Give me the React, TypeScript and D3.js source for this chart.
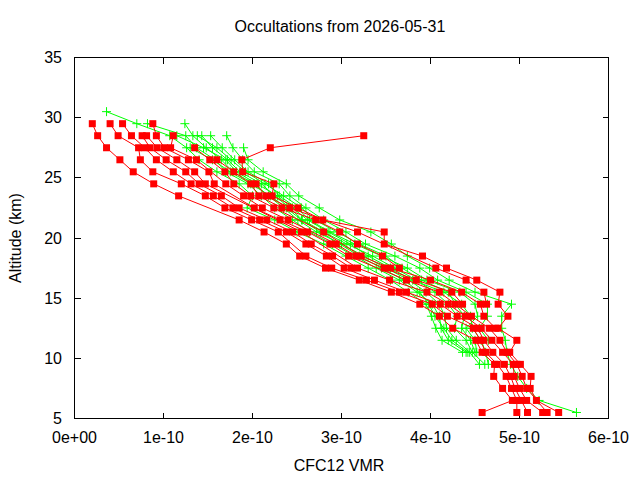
import React from "react";
import * as d3 from "d3";

// Tangent altitudes (km) of each retrieval level, top to bottom
const altitudes = [
  30.5, 29.5, 28.5, 27.5, 26.5, 25.5, 24.5, 23.5, 22.5, 21.5, 20.5, 19.5, 18.5,
  17.5, 16.5, 15.5, 14.5, 13.5, 12.5, 11.5, 10.5, 9.5, 8.5, 7.5, 6.5, 5.5,
];

// CFC-12 volume mixing ratios in units of 1e-10 (null = no retrieval at that level)
const VMR_UNIT = 1e-10;
const _ = null;

// Red profiles
const red1 = [_, 0.2, 0.26, 0.36, 0.51, 0.66, 0.89, 1.17, _, 1.85, 2.13, 2.38, 2.53, 2.82, 3.2, 3.56, 3.88, 4.1, 4.25, 4.51, 4.58, 4.72, 4.71, 4.81, 4.92, 4.58];
const red2 = [_, 0.4, 0.49, 0.72, 0.74, 0.88, 1.2, 1.47, 1.69, 1.99, 2.29, _, 2.6, 2.89, 3.28, 3.65, 4.02, 4.19, 4.48, 4.56, 4.62, 4.75, 4.85, 4.91, 4.97, 4.97];
const red3 = [_, 0.54, 0.64, 0.79, 0.92, 1.11, 1.31, 1.56, 1.78, 2.08, 2.38, 2.6, 2.83, 3.03, 3.37, 3.73, 4.11, 4.3, 4.53, 4.6, 4.7, 4.83, 4.9, 4.95, 5.02, 5.09];
const red4 = [_, _, 0.76, 0.85, 1.03, 1.25, 1.4, 1.65, 1.85, 2.16, 2.45, 2.66, 2.9, 3.11, _, _, _, _, _, _, _, _, _, _, _, _];
const red5 = [_, _, 0.81, 0.93, 1.15, 1.35, 1.47, _, _, _, 2.55, _, _, 3.18, 3.54, 3.96, 4.2, 4.39, 4.57, 4.69, 4.81, 4.93, 4.94, 5.0, 5.08, 5.26];
const red6 = [_, 0.88, 0.92, 1.01, 1.28, 1.51, 1.57, _, 2.02, 2.31, 2.62, 2.87, 3.08, _, 3.73, 4.1, 4.28, 4.46, 4.66, 4.78, 4.86, 4.97, 5.03, 5.08, _, 5.31];
const red7 = [_, _, 1.11, 1.08, 1.37, _, 1.7, 1.9, 2.11, 2.4, _, 2.94, 3.16, 3.48, 3.84, 4.24, 4.36, _, _, _, _, _, _, _, _, _];
const red8 = [_, _, _, 1.35, 1.52, 1.69, 1.79, 1.98, 2.24, _, 2.8, _, 3.22, 3.55, 4.0, 4.35, 4.56, 4.6, 4.73, _, _, _, _, _, _, _];
const red9 = [_, _, _, _, 1.6, 1.79, 1.98, 2.07, 2.33, 2.71, 2.98, 3.18, 3.46, 3.65, _, _, _, _, _, _, _, _, _, _, _, _];
const red10 = [_, _, _, _, _, _, 2.04, 2.15, 2.42, _, 3.18, _, _, 4.06, 4.4, 4.6, 4.63, _, _, _, _, _, _, _, _, _];
const red11 = [_, _, 3.25, 2.2, 1.88, 1.89, 2.24, 2.22, 2.51, 2.79, 3.48, 3.48, 3.91, 4.18, 4.52, 4.78, 4.76, 4.87, 4.76, 4.97, 4.89, 5.01, 5.13, 5.12, 5.19, 5.44];

// Green profiles
const green1 = [0.36, 0.7, 1.07, 1.26, 1.4, 1.6, 1.85, 2.0, 1.94, 2.25, 2.5, 2.8, 3.05, 3.3, 3.55, 3.75, 3.95, 4.01, 4.06, 4.13, 4.36, _, _, _, _, _];
const green2 = [_, 0.82, 1.25, 1.37, 1.58, 1.7, 1.95, 2.1, 2.25, 2.45, 2.64, 2.9, 3.15, 3.39, 3.65, 3.85, 4.02, 4.1, 4.12, 4.2, 4.4, _, _, _, _, _];
const green3 = [_, 1.24, 1.33, 1.48, 1.65, 1.78, 2.02, 2.18, 2.35, 2.51, 2.72, 3.0, 3.25, 3.5, 3.76, 3.95, 4.1, 4.16, 4.18, 4.29, 4.44, 4.55, _, _, _, _];
const green4 = [_, _, 1.43, 1.55, 1.72, 1.86, 2.1, 2.25, 2.42, 2.56, 2.8, 3.06, 3.35, 3.6, 3.84, 4.05, 4.2, 4.3, 4.27, 4.4, 4.47, 4.61, _, _, _, _];
const green5 = [_, _, 1.53, 1.66, 1.8, 1.95, 2.18, 2.3, 2.5, 2.64, 2.87, 3.15, 3.45, 3.74, 3.96, 4.33, 4.5, 4.53, 4.4, 4.5, 4.52, _, _, _, _, _];
const green6 = [_, _, 1.71, 1.78, 1.89, 2.02, 2.3, 2.42, 2.6, 2.8, 3.05, 3.27, 3.6, 3.88, 4.08, 4.4, 4.64, 4.64, 4.55, 4.65, _, _, _, _, _, _];
const green7 = [_, _, _, 1.9, 1.95, 2.12, 2.38, 2.52, 2.75, 2.98, 3.33, 3.56, 3.74, 3.99, 4.21, 4.5, 4.91, 4.8, 4.8, 4.84, 4.86, 4.9, 4.98, 5.08, 5.22, 5.64];
const green8 = [_, _, 1.15, 1.45, 1.7, 1.82, 2.05, 2.28, 2.45, 2.62, 2.85, 3.1, 3.3, 3.55, 3.8, 4.15, 4.35, 4.45, 4.47, 4.57, 4.62, 4.65, _, _, _, _];
const green9 = [_, _, _, 1.3, 1.55, 1.75, 1.98, 2.2, 2.38, 2.55, 2.76, 2.98, 3.2, 3.45, 3.7, 3.88, 3.98, 4.05, 4.15, 4.24, 4.42, _, _, _, _, _];
const green10 = [_, _, 1.38, 1.6, 1.76, 1.92, 2.14, 2.35, 2.55, 2.7, 2.95, 3.2, 3.5, 3.68, 3.9, 4.2, 4.28, 4.38, 4.35, 4.45, 4.5, _, _, _, _, _];

const redProfiles = [red1, red2, red3, red4, red5, red6, red7, red8, red9, red10, red11];
const greenProfiles = [green1, green2, green3, green4, green5, green6, green7, green8, green9, green10];

// Axis ticks
const xTicks = [0, 1e-10, 2e-10, 3e-10, 4e-10, 5e-10, 6e-10];
const xTickLabels = ["0e+00", "1e-10", "2e-10", "3e-10", "4e-10", "5e-10", "6e-10"];
const yTicks = [5, 10, 15, 20, 25, 30, 35];

const W = 640;
const H = 480;
const M = { left: 74.5, right: 608.5, top: 57.5, bottom: 418.5 };
const FONT = "'Liberation Sans', Arial, sans-serif";
const TICK = 6;

const RED = "#ff0000";
const GREEN = "#00ff00";

type Pt = { alt: number; v: number };

function toPoints(profile: (number | null)[]): Pt[] {
  const pts: Pt[] = [];
  profile.forEach((v, i) => {
    if (v !== null && v !== undefined) pts.push({ alt: altitudes[i], v: v * VMR_UNIT });
  });
  return pts;
}

export default function App() {
  const x = d3.scaleLinear().domain([0, 6e-10]).range([M.left, M.right]);
  const y = d3.scaleLinear().domain([5, 35]).range([M.bottom, M.top]);
  const line = d3
    .line<Pt>()
    .x((d) => x(d.v))
    .y((d) => y(d.alt));

  const greens = greenProfiles.map(toPoints);
  const reds = redProfiles.map(toPoints);
  const cy = (M.top + M.bottom) / 2;

  return (
    <svg
      width={W}
      height={H}
      viewBox={`0 0 ${W} ${H}`}
      style={{ position: "absolute", left: 0, top: 0, background: "#fff" }}
      fontFamily={FONT}
    >
      <rect x={0} y={0} width={W} height={H} fill="#fff" />

      {/* title and axis titles */}
      <text x={340} y={32} fontSize={16} textAnchor="middle" fill="#000">
        Occultations from 2026-05-31
      </text>
      <text x={339} y={471} fontSize={16} textAnchor="middle" fill="#000">
        CFC12 VMR
      </text>
      <text
        transform={`translate(21, ${cy}) rotate(-90)`}
        fontSize={16}
        textAnchor="middle"
        fill="#000"
      >
        Altitude (km)
      </text>

      {/* ticks, mirrored on all four sides */}
      <g stroke="#000" strokeWidth={1} shapeRendering="crispEdges">
        {yTicks.map((t) => (
          <g key={`y${t}`}>
            <line x1={M.left} x2={M.left + TICK} y1={y(t)} y2={y(t)} />
            <line x1={M.right} x2={M.right - TICK} y1={y(t)} y2={y(t)} />
          </g>
        ))}
        {xTicks.map((t) => (
          <g key={`x${t}`}>
            <line x1={x(t)} x2={x(t)} y1={M.bottom} y2={M.bottom - TICK} />
            <line x1={x(t)} x2={x(t)} y1={M.top} y2={M.top + TICK} />
          </g>
        ))}
      </g>
      {yTicks.map((t) => (
        <text key={`yl${t}`} x={62} y={y(t) + 5.5} fontSize={16} textAnchor="end" fill="#000">
          {t}
        </text>
      ))}
      {xTicks.map((t, i) => (
        <text key={`xl${t}`} x={x(t)} y={443} fontSize={16} textAnchor="middle" fill="#000">
          {xTickLabels[i]}
        </text>
      ))}

      {/* green profiles: lines with plus markers */}
      <g>
        {greens.map((pts, i) => (
          <g key={`g${i}`}>
            <path d={line(pts) ?? ""} fill="none" stroke={GREEN} strokeWidth={1} />
            {pts.map((p, j) => (
              <path
                key={j}
                d={`M${x(p.v) - 4.5},${y(p.alt)}h9M${x(p.v)},${y(p.alt) - 4.5}v9`}
                stroke={GREEN}
                strokeWidth={1}
                fill="none"
              />
            ))}
          </g>
        ))}
      </g>

      {/* red profiles: lines with filled square markers */}
      <g>
        {reds.map((pts, i) => (
          <g key={`r${i}`}>
            <path d={line(pts) ?? ""} fill="none" stroke={RED} strokeWidth={1} />
            {pts.map((p, j) => (
              <rect
                key={j}
                x={x(p.v) - 3.5}
                y={y(p.alt) - 3.5}
                width={7}
                height={7}
                fill={RED}
              />
            ))}
          </g>
        ))}
      </g>

      {/* plot frame */}
      <rect
        x={M.left}
        y={M.top}
        width={M.right - M.left}
        height={M.bottom - M.top}
        fill="none"
        stroke="#000"
        strokeWidth={1}
        shapeRendering="crispEdges"
      />
    </svg>
  );
}
